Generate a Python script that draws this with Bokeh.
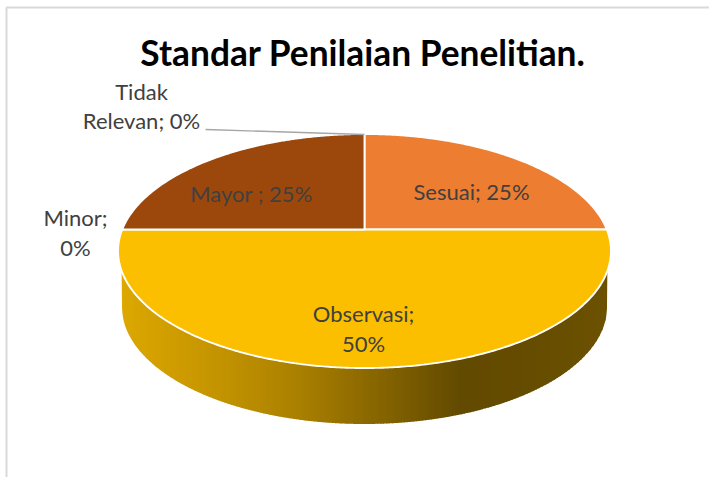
import math
import numpy as np
from bokeh.core.properties import value
from bokeh.embed import file_html
from bokeh.models import Range1d
from bokeh.plotting import figure
from bokeh.resources import INLINE

title_text = "Standar Penilaian Penelitian."
categories = ["Sesuai", "Observasi", "Minor", "Mayor", "Tidak Relevan"]
shares = [25, 50, 0, 25, 0]
slice_colors = ["#ED7D31", "#FBBF00", "#7F7F7F", "#9C480D", "#4472C4"]

label_lines = ["Sesuai; 25%", "Observasi;", "50%", "Minor;", "0%", "Mayor ; 25%", "Tidak", "Relevan; 0%"]
label_x = [471, 363, 363, 75, 75, 251, 141, 141]
label_y = [191, 313, 343, 217, 247, 193, 91, 120]

W, H = 709, 477
CX, CY, RX, RY = 364, 250.5, 246.5, 117
AX, AY = 364, 229
DEPTH = 56
SHOULDER = 20

p = figure(width=W, height=H, output_backend="svg", toolbar_location=None,
           x_range=Range1d(0, W), y_range=Range1d(H, 0), min_border=0,
           outline_line_color=None, background_fill_color="white")
p.axis.visible = False
p.grid.visible = False


def rim(theta):
    dx, dy = math.sin(theta), -math.cos(theta)
    ex, ey = (AX - CX) / RX, (AY - CY) / RY
    ux, uy = dx / RX, dy / RY
    a = ux * ux + uy * uy
    b = 2 * (ex * ux + ey * uy)
    c = ex * ex + ey * ey - 1
    t = (-b + math.sqrt(b * b - 4 * a * c)) / (2 * a)
    return AX + t * dx, AY + t * dy


RX2 = RX - 4
XL = CX - RX * math.sqrt(1 - (SHOULDER / RY) ** 2)
XR = 2 * CX - XL


def top_edge(x):
    return np.maximum(CY + RY * np.sqrt(np.clip(1 - ((x - CX) / RX) ** 2, 0, 1)), CY + SHOULDER) - 1


def low_edge(x):
    y = CY + DEPTH + RY * np.sqrt(np.clip(1 - ((x - CX) / RX2) ** 2, 0, 1))
    # straight shoulder between the face's rim and the widest point of the base
    d = np.maximum(CX - RX2 - x, x - (CX + RX2))
    span = CX - RX2 - XL
    return np.where(d > 0, CY + DEPTH - (CY + DEPTH - (CY + SHOULDER)) * d / span, y)


stops_x = [119, 200, 300, 400, 459, 520, 611]
stops_c = [(221, 168, 0), (201, 152, 0), (170, 128, 0), (125, 94, 0), (98, 74, 0), (101, 76, 0), (108, 82, 0)]
edges = np.concatenate([np.arange(XL, CX - RX2, 0.75), np.arange(CX - RX2, CX + RX2, 3.0),
                        np.arange(CX + RX2, XR + 0.01, 0.75)])
for x0, x1 in zip(edges[:-1], edges[1:]):
    xs = np.linspace(x0, x1 + 0.6, 5)
    xs = np.minimum(xs, XR)
    top = top_edge(xs)
    low = low_edge(xs)
    xm = (x0 + x1) / 2
    col = [int(np.interp(xm, stops_x, [c[i] for c in stops_c])) for i in range(3)]
    px = list(xs) + list(xs[::-1])
    py = list(top) + list(low[::-1])
    p.patch(px, py, fill_color="#%02x%02x%02x" % tuple(col), line_color=None)

# slices, clockwise from twelve o'clock
total = sum(shares)
cum = 0
for cat, share, col in zip(categories, shares, slice_colors):
    start = cum / total * 2 * math.pi
    cum += share
    end = cum / total * 2 * math.pi
    if share == 0:
        continue
    pts = [rim(t) for t in np.linspace(start, end, 180)]
    xs = [AX] + [q[0] for q in pts]
    ys = [AY] + [q[1] for q in pts]
    p.patch(xs, ys, fill_color=col, line_color="white", line_width=1.9)

# leader line and frame
p.line([205, 364], [129, 134], line_color="#A6A6A6", line_width=1.3)
p.line([6, 6, W], [H, 7, 7], line_color="#D9D9D9", line_width=2)

p.text(label_x, label_y, text=label_lines, text_font=value("Lato"), text_font_size="22px",
       text_color="#404040", text_align="center", text_baseline="middle")
p.text([362.5], [52], text=[title_text], text_font=value("Lato"), text_font_size="35.3px",
       text_font_style="bold", text_color="black", text_align="center", text_baseline="middle")

open("out.html", "w").write(file_html(p, INLINE))
